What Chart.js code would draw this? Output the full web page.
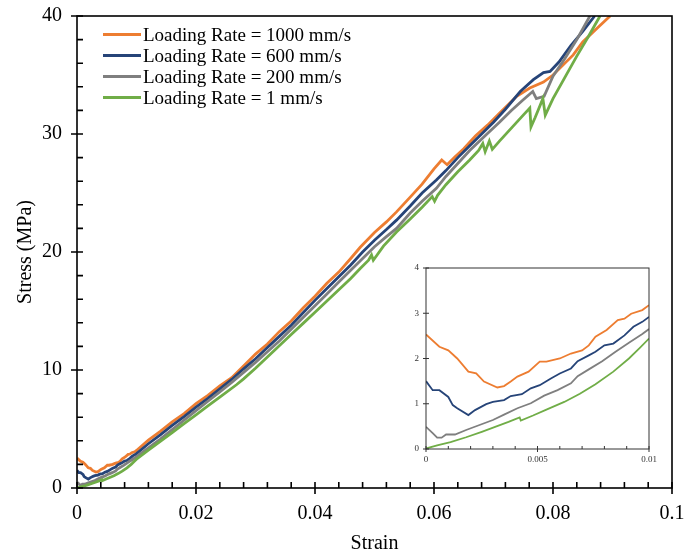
<!DOCTYPE html>
<html><head><meta charset="utf-8">
<script src="https://cdn.jsdelivr.net/npm/chart.js@4.4.1/dist/chart.umd.min.js"></script>
<style>
html,body{margin:0;padding:0;background:#fff;}
#wrap{position:relative;width:684px;height:556px;overflow:hidden;}
#main{position:absolute;left:0;top:0;}
#inset{position:absolute;left:395px;top:258px;}
#legend{position:absolute;left:103px;top:24px;font-family:"Liberation Serif","Times New Roman",serif;font-size:19px;color:#000;}
#legend .row{height:21px;line-height:21px;white-space:nowrap;display:flex;align-items:center;}
#legend .sw{display:inline-block;width:38px;height:3px;margin-right:2px;}
</style></head><body>
<div id="wrap">
<canvas id="main" width="684" height="556"></canvas>
<canvas id="inset" width="285" height="215"></canvas>
<div id="legend"></div>
</div>
<script>
// ---- data ----
const seriesNames = ["Loading Rate = 1000 mm/s","Loading Rate = 600 mm/s","Loading Rate = 200 mm/s","Loading Rate = 1 mm/s"];
const seriesColors = ["#ED7D31","#264478","#7F7F7F","#70AD47"];

const strain1000 = [0,0.0006,0.001,0.0014,0.0019,0.00225,0.0026,0.0032,0.0035,0.0038,0.0041,0.0046,0.0051,0.0054,0.006,0.0065,0.007,0.0073,0.0076,0.0081,0.0086,0.0089,0.0092,0.0097,0.01,
 0.012,0.014,0.016,0.018,0.020,0.022,0.024,0.026,0.0285,0.030,0.032,0.034,0.036,0.038,0.040,0.042,0.044,0.046,0.0476,0.050,0.052,0.0537,0.056,0.058,0.060,0.0613,0.0622,0.0635,0.065,0.067,0.069,0.071,0.0739,0.0761,0.0784,0.080,0.0834,0.085,0.0875,0.0896];
const stress1000 = [2.53,2.26,2.18,2.0,1.71,1.67,1.49,1.36,1.39,1.49,1.6,1.71,1.93,1.93,2.0,2.11,2.18,2.29,2.48,2.63,2.85,2.88,2.99,3.07,3.18,
 4.05,4.8,5.6,6.3,7.15,7.85,8.65,9.35,10.6,11.35,12.2,13.25,14.15,15.25,16.25,17.35,18.3,19.45,20.4,21.65,22.55,23.4,24.65,25.75,27.05,27.8,27.4,28.05,28.75,29.85,30.75,31.75,33.2,33.9,34.4,35.0,36.7,37.8,39.0,40.0];

const strain600 = [0,0.0003,0.0006,0.001,0.0012,0.0014,0.0019,0.0022,0.0027,0.003,0.0035,0.0038,0.0043,0.0047,0.0051,0.0056,0.006,0.0065,0.0068,0.0073,0.0076,0.008,0.0084,0.0089,0.0093,0.0097,0.01,
 0.012,0.014,0.016,0.018,0.020,0.022,0.024,0.026,0.028,0.030,0.032,0.034,0.036,0.038,0.040,0.042,0.044,0.046,0.048,0.050,0.052,0.0537,0.056,0.058,0.0604,0.062,0.064,0.066,0.068,0.070,0.072,0.0745,0.0767,0.0784,0.0795,0.081,0.083,0.085,0.087];
const stress600 = [1.5,1.3,1.3,1.15,0.97,0.9,0.75,0.86,0.99,1.04,1.08,1.17,1.21,1.34,1.41,1.56,1.67,1.78,1.94,2.07,2.15,2.29,2.33,2.51,2.7,2.81,2.92,
 3.75,4.5,5.3,6.05,6.85,7.6,8.4,9.2,10.1,10.95,11.9,12.85,13.8,14.85,15.9,16.9,17.9,18.9,20.0,21.0,21.9,22.7,23.9,25.0,26.1,26.9,28.0,29.0,30.0,31.0,32.1,33.6,34.6,35.2,35.3,36.1,37.5,38.7,40.0];

const strain200 = [0,0.0003,0.0005,0.0007,0.0009,0.0013,0.0018,0.0024,0.003,0.0035,0.0041,0.0047,0.0053,0.0059,0.0065,0.0068,0.0073,0.0079,0.0085,0.0091,0.0097,0.01,
 0.012,0.014,0.016,0.018,0.020,0.022,0.024,0.026,0.028,0.030,0.032,0.034,0.036,0.038,0.040,0.042,0.044,0.046,0.048,0.050,0.052,0.0537,0.056,0.058,0.0604,0.062,0.064,0.066,0.0689,0.071,0.073,0.075,0.0766,0.0772,0.0785,0.080,0.082,0.084,0.0862];
const stress200 = [0.49,0.35,0.25,0.25,0.32,0.32,0.42,0.53,0.64,0.76,0.9,1.01,1.18,1.3,1.45,1.61,1.76,1.94,2.15,2.35,2.54,2.65,
 3.4,4.15,4.95,5.75,6.55,7.35,8.15,8.95,9.8,10.65,11.55,12.45,13.45,14.45,15.45,16.45,17.45,18.45,19.45,20.45,21.3,22.0,23.3,24.3,25.4,26.4,27.5,28.6,30.0,31.0,32.0,32.9,33.6,33.0,33.2,34.9,36.4,38.0,40.0];

const strain1 = [0,0.0005,0.0011,0.0018,0.0025,0.0031,0.0037,0.0042,0.00425,0.0048,0.0054,0.0062,0.0069,0.0076,0.0084,0.0091,0.0096,0.01,
 0.012,0.014,0.016,0.018,0.020,0.022,0.024,0.0268,0.028,0.030,0.032,0.034,0.036,0.038,0.040,0.042,0.044,0.046,0.0476,0.049,0.0495,0.0498,0.0515,0.0537,0.056,0.058,0.0597,0.0601,0.0606,0.062,0.064,0.066,0.0675,0.0682,0.0686,0.0693,0.0698,0.071,0.073,0.075,0.0761,0.0763,0.077,0.0783,0.0787,0.080,0.082,0.084,0.086,0.0879];
const stress1 = [0.01,0.08,0.15,0.26,0.38,0.49,0.6,0.7,0.63,0.74,0.87,1.04,1.22,1.43,1.71,2.0,2.24,2.44,
 3.2,3.95,4.7,5.45,6.2,6.95,7.7,8.75,9.25,10.15,11.1,12.05,13.0,13.95,14.9,15.85,16.8,17.75,18.6,19.3,19.75,19.3,20.5,21.7,22.8,23.8,24.7,24.3,24.8,25.7,26.8,27.8,28.6,29.2,28.5,29.4,28.7,29.4,30.5,31.6,32.2,30.6,31.4,33.0,31.6,33.0,34.8,36.6,38.3,40.0];

const xTickLabels = ["0","0.02","0.04","0.06","0.08","0.1"];
const yTickLabels = ["0","10","20","30","40"];
const insetXTickLabels = ["0","0.005","0.01"];
const insetYTickLabels = ["0","1","2","3","4"];

// ---- build ----
const allStrain = [strain1000, strain600, strain200, strain1];
const allStress = [stress1000, stress600, stress200, stress1];
function pts(i, maxX){ const s=allStrain[i], v=allStress[i], out=[]; for(let k=0;k<s.length;k++){ if(maxX===undefined||s[k]<=maxX+1e-9) out.push({x:s[k],y:v[k]}); } return out; }

const SERIF = '"Liberation Serif","Times New Roman",serif';

function frameTicks(opt){
  return {
    id:'frameTicks',
    afterDraw(chart){
      const {ctx, chartArea:a, scales:{x,y}} = chart;
      ctx.save();
      ctx.strokeStyle = opt.color; ctx.lineWidth = opt.lw;
      ctx.strokeRect(a.left, a.top, a.right-a.left, a.bottom-a.top);
      ctx.beginPath();
      for(let i=0;i<=opt.xMinorN;i++){
        const v = x.min + i*(x.max-x.min)/opt.xMinorN;
        const p = x.getPixelForValue(v);
        const major = (i % opt.xMajorEvery)===0;
        if(major){ ctx.moveTo(p, a.bottom-opt.majIn); ctx.lineTo(p, a.bottom+opt.majOut); }
        else { ctx.moveTo(p, a.bottom-opt.minIn); ctx.lineTo(p, a.bottom); }
      }
      for(let i=0;i<=opt.yMinorN;i++){
        const v = y.min + i*(y.max-y.min)/opt.yMinorN;
        const p = y.getPixelForValue(v);
        const major = (i % opt.yMajorEvery)===0;
        if(major){ ctx.moveTo(a.left-opt.majOut, p); ctx.lineTo(a.left+opt.majIn, p); }
        else { ctx.moveTo(a.left, p); ctx.lineTo(a.left+opt.minIn, p); }
      }
      ctx.stroke();
      ctx.restore();
    }
  };
}

function mkDatasets(maxX, lw){
  return seriesNames.map((n,i)=>({label:n, data:pts(i,maxX), borderColor:seriesColors[i], backgroundColor:seriesColors[i], borderWidth:lw, pointRadius:0, tension:0, fill:false}));
}
function noPadX(s){ s.paddingLeft = 0; s.paddingRight = 0; }
function noPadY(s){ s.paddingTop = 0; s.paddingBottom = 0; }

new Chart(document.getElementById('main'), {
  type:'line',
  data:{datasets: mkDatasets(undefined, 2.8).reverse()},
  options:{
    responsive:false, animation:false, devicePixelRatio:1,
    layout:{padding:{top:16,right:12,left:0,bottom:0}},
    plugins:{legend:{display:false}, tooltip:{enabled:false}},
    scales:{
      x:{type:'linear', min:0, max:0.1,
        afterBuildTicks(s){ s.ticks = xTickLabels.map(t=>({value:parseFloat(t)})); },
        afterFit(s){ s.height = 68; noPadX(s); },
        grid:{display:false, drawTicks:false}, border:{display:false},
        ticks:{padding:14, color:'#000', font:{family:SERIF,size:20}, maxRotation:0, callback:(v,i)=>xTickLabels[i]},
        title:{display:true, text:'Strain', color:'#000', font:{family:SERIF,size:20}, padding:{top:2,bottom:0}}
      },
      y:{type:'linear', min:0, max:40,
        afterBuildTicks(s){ s.ticks = yTickLabels.map(t=>({value:parseFloat(t)})); },
        afterFit(s){ s.width = 77; noPadY(s); },
        grid:{display:false, drawTicks:false}, border:{display:false},
        ticks:{padding:15, color:'#000', font:{family:SERIF,size:20}, callback:(v,i)=>yTickLabels[i]},
        title:{display:true, text:'Stress (MPa)', color:'#000', font:{family:SERIF,size:20}, padding:{top:14,bottom:0}}
      }
    }
  },
  plugins:[frameTicks({color:'#000', lw:1.6, xMinorN:25, xMajorEvery:5, yMinorN:20, yMajorEvery:5, majIn:6, majOut:6, minIn:6})]
});

new Chart(document.getElementById('inset'), {
  type:'line',
  data:{datasets: mkDatasets(0.01, 1.8).reverse()},
  options:{
    responsive:false, animation:false, devicePixelRatio:1,
    layout:{padding:{top:10,right:31,left:0,bottom:0}},
    plugins:{legend:{display:false}, tooltip:{enabled:false}},
    scales:{
      x:{type:'linear', min:0, max:0.01,
        afterBuildTicks(s){ s.ticks = insetXTickLabels.map(t=>({value:parseFloat(t)})); },
        afterFit(s){ s.height = 24; noPadX(s); },
        grid:{display:false, drawTicks:false}, border:{display:false},
        ticks:{padding:5, color:'#333', font:{family:SERIF,size:9}, maxRotation:0, callback:(v,i)=>insetXTickLabels[i]}
      },
      y:{type:'linear', min:0, max:4,
        afterBuildTicks(s){ s.ticks = insetYTickLabels.map(t=>({value:parseFloat(t)})); },
        afterFit(s){ s.width = 31; noPadY(s); },
        grid:{display:false, drawTicks:false}, border:{display:false},
        ticks:{padding:7, color:'#333', font:{family:SERIF,size:9}, callback:(v,i)=>insetYTickLabels[i]}
      }
    }
  },
  plugins:[frameTicks({color:'#333', lw:1, xMinorN:10, xMajorEvery:5, yMinorN:4, yMajorEvery:1, majIn:3, majOut:3, minIn:3})]
});

// HTML legend
const lg = document.getElementById('legend');
seriesNames.forEach((n,i)=>{
  const r=document.createElement('div'); r.className='row';
  const sw=document.createElement('span'); sw.className='sw'; sw.style.background=seriesColors[i];
  const t=document.createElement('span'); t.textContent=n;
  r.appendChild(sw); r.appendChild(t); lg.appendChild(r);
});
</script>
</body></html>
